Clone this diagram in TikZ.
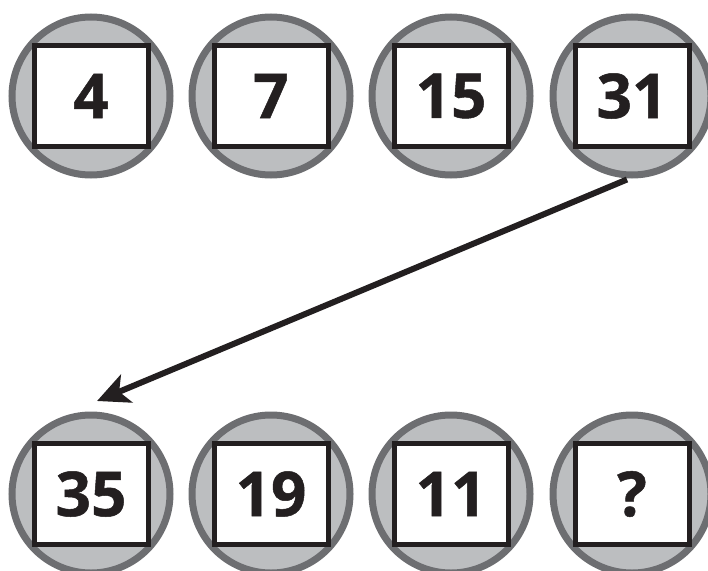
\documentclass[tikz,border=0pt]{standalone}
\usepackage{fontspec}
\setmainfont{Open Sans}
\newfontfamily\numfont{Open Sans}[BoldFeatures={FakeBold=0.8}]
\usetikzlibrary{arrows.meta}
\definecolor{ringgray}{HTML}{6D6E71}
\definecolor{fillgray}{HTML}{BCBEC0}
\definecolor{inkdark}{HTML}{231F20}
\begin{document}
\begin{tikzpicture}[x=1pt,y=1pt,
  disc/.style={circle,draw=ringgray,fill=fillgray,line width=7pt,minimum size=158pt,inner sep=0pt},
  numbox/.style={rectangle,draw=inkdark,fill=white,line width=5pt,minimum width=114pt,minimum height=101pt,inner sep=0pt,
    text=inkdark,font=\numfont\fontsize{62}{62}\selectfont\bfseries},
  bigarrow/.style={draw=inkdark,line width=6pt,-{Stealth[length=32pt,width=30pt,inset=8pt]}}]
\useasboundingbox (0,0) rectangle (708,-570);
\clip (0,0) rectangle (708,-570);
% top row
\node[disc] (c1) at (91,-96) {};
\node[disc] (c2) at (271,-96) {};
\node[disc] (c3) at (451,-96) {};
\node[disc] (c4) at (632,-96) {};
\node[numbox] (b1) at (91,-96) {4};
\node[numbox] (b2) at (271,-96) {7};
\node[numbox] (b3) at (451,-96) {15};
\node[numbox] (b4) at (632,-96) {31};
% bottom row
\node[disc] (c5) at (91,-494) {};
\node[disc] (c6) at (271,-494) {};
\node[disc] (c7) at (451,-494) {};
\node[disc] (c8) at (632,-494) {};
\node[numbox] (b5) at (91,-494) {35};
\node[numbox] (b6) at (271,-494) {19};
\node[numbox] (b7) at (451,-494) {11};
\node[numbox] (b8) at (632,-494) {?};
% arrow
\coordinate (tip) at (97,-401);
\draw[bigarrow] ([xshift=-5pt,yshift=-1pt]c4.south) -- (tip);
\end{tikzpicture}
\end{document}
